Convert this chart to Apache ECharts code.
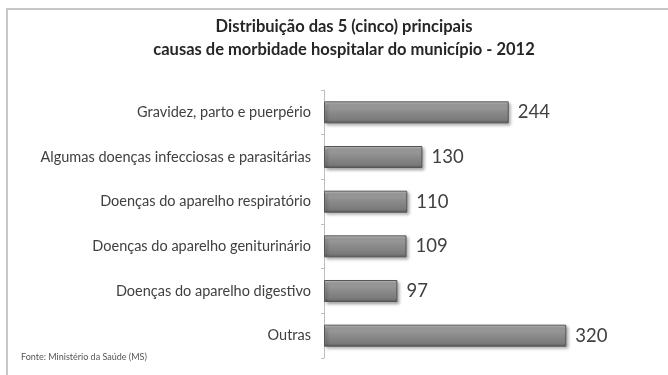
<!DOCTYPE html>
<html>
<head>
<meta charset="utf-8">
<script src="https://cdn.jsdelivr.net/npm/echarts@6/dist/echarts.min.js"></script>
<style>
  html, body { margin: 0; padding: 0; background: #fff; }
  #chart { width: 668px; height: 375px; }
</style>
</head>
<body>
<div id="chart"></div>
<script>
// Causas de morbidade hospitalar (top to bottom as displayed)
const categories = [
  'Gravidez, parto e puerpério',
  'Algumas doenças infecciosas e parasitárias',
  'Doenças do aparelho respiratório',
  'Doenças do aparelho geniturinário',
  'Doenças do aparelho digestivo',
  'Outras'
];
const values = [244, 130, 110, 109, 97, 320];
const titleLines = [
  'Distribuição das 5 (cinco) principais',
  'causas de morbidade hospitalar do município - 2012'
];
const sourceNote = 'Fonte: Ministério da Saúde (MS)';

const chart = echarts.init(document.getElementById('chart'), null, { renderer: 'canvas' });

const barFill = new echarts.graphic.LinearGradient(0, 0, 0, 1, [
  { offset: 0, color: '#c8c8c8' },
  { offset: 0.18, color: '#9c9c9c' },
  { offset: 0.5, color: '#8a8a8a' },
  { offset: 0.85, color: '#7a7a7a' },
  { offset: 1, color: '#5a5a5a' }
]);

chart.setOption({
  backgroundColor: '#ffffff',
  animation: false,
  title: {
    text: titleLines.join('\n'),
    left: 339,
    textAlign: 'center',
    top: 10,
    textStyle: {
      fontFamily: 'Lato',
      fontWeight: 'bold',
      fontSize: 16.5,
      lineHeight: 23,
      color: '#262626'
    }
  },
  graphic: [
    { type: 'rect', shape: { x: 6, y: 8, width: 670, height: 2 }, style: { fill: '#c8c8c8' }, silent: true },
    { type: 'rect', shape: { x: 6, y: 8, width: 2, height: 370 }, style: { fill: '#c8c8c8' }, silent: true },
    {
      type: 'text', left: 21, top: 353,
      style: { text: sourceNote, fontFamily: 'Lato', fontSize: 9, fill: '#555' }
    }
  ],
  grid: { left: 324, top: 90, width: 265, height: 268, containLabel: false },
  xAxis: {
    type: 'value',
    min: 0,
    max: 350,
    show: false
  },
  yAxis: {
    type: 'category',
    inverse: true,
    data: categories,
    axisLine: { show: true, lineStyle: { color: '#bfbfbf', width: 1 } },
    axisTick: { show: true, length: 3, lineStyle: { color: '#bfbfbf' } },
    axisLabel: {
      margin: 13,
      fontFamily: 'Lato',
      fontSize: 14.5,
      color: '#404040'
    }
  },
  series: [{
    type: 'bar',
    data: values,
    barWidth: 22,
    itemStyle: {
      color: barFill,
      borderColor: '#555555',
      borderWidth: 1,
      shadowBlur: 3,
      shadowOffsetX: 2,
      shadowOffsetY: 2,
      shadowColor: 'rgba(0,0,0,0.35)'
    },
    label: {
      show: true,
      position: 'right',
      distance: 9,
      fontFamily: 'Lato',
      fontSize: 18.5,
      color: '#404040'
    }
  }]
});
</script>
</body>
</html>
